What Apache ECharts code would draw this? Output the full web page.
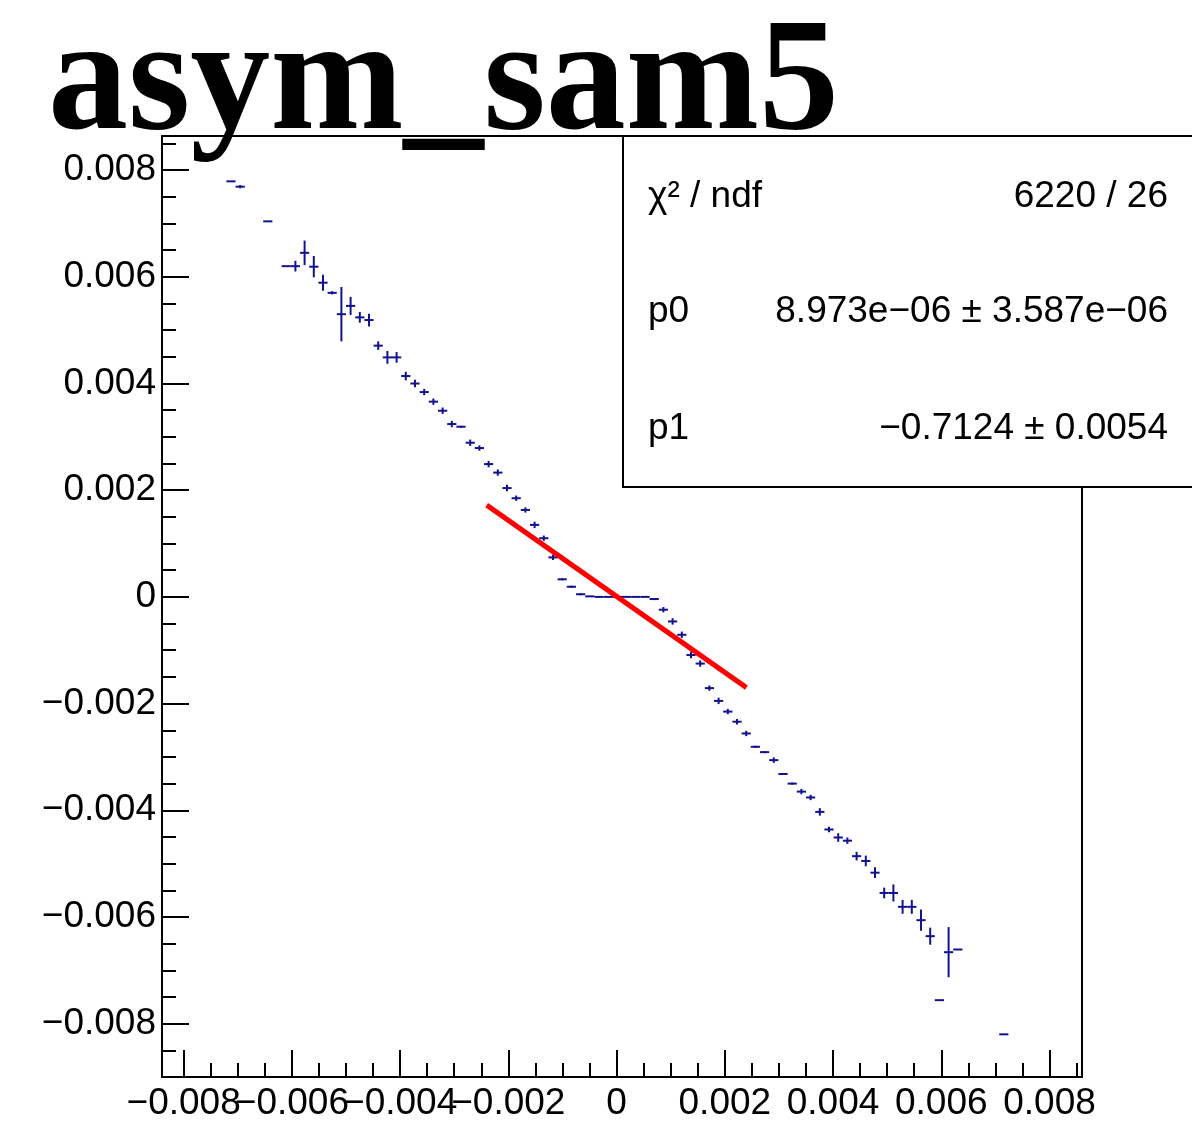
<!DOCTYPE html>
<html>
<head>
<meta charset="utf-8">
<script src="https://cdn.jsdelivr.net/npm/echarts@6/dist/echarts.min.js"></script>
<style>
html, body { margin: 0; padding: 0; background: #fff; }
#main { width: 1192px; height: 1144px; }
</style>
</head>
<body>
<div id="main"></div>
<script>
// profile bins (bin centre, mean, error on mean)
const binX = [
  -0.007125, -0.006955, -0.006445, -0.006105, -0.005935, -0.005765, -0.005595, -0.005425,
  -0.005255, -0.005085, -0.004915, -0.004745, -0.004575, -0.004405, -0.004235, -0.004065,
  -0.003895, -0.003725, -0.003555, -0.003385, -0.003215, -0.003045, -0.002875, -0.002705,
  -0.002535, -0.002365, -0.002195, -0.002025, -0.001855, -0.001685, -0.001515, -0.001345,
  -0.001175, -0.001005, -0.000835, -0.000665, -0.000495, -0.000325, -0.000155, 0.000015,
  0.000185, 0.000355, 0.000525, 0.000695, 0.000865, 0.001035, 0.001205, 0.001375,
  0.001545, 0.001715, 0.001885, 0.002055, 0.002225, 0.002395, 0.002565, 0.002735,
  0.002905, 0.003075, 0.003245, 0.003415, 0.003585, 0.003755, 0.003925, 0.004095,
  0.004265, 0.004435, 0.004605, 0.004775, 0.004945, 0.005115, 0.005285, 0.005455,
  0.005625, 0.005795, 0.005965, 0.006135, 0.006305, 0.007155
];
const binMean = [
  0.00779, 0.00769, 0.00704, 0.00620, 0.00620, 0.00645, 0.00619, 0.00589,
  0.00570, 0.00530, 0.005455, 0.00524, 0.00519, 0.00471, 0.00449, 0.00449,
  0.00414, 0.00400, 0.00384, 0.00366, 0.00349, 0.00324, 0.00319, 0.00289,
  0.00279, 0.00249, 0.00233, 0.00204, 0.00185, 0.00163, 0.00135, 0.00110,
  0.00074, 0.00033, 0.00019, 0.00005, 0.00001, 0.0, 0.0, 0.0,
  0.0, 0.0, 0.0, -0.00004, -0.00024, -0.00046, -0.00071, -0.00109,
  -0.00125, -0.00171, -0.00195, -0.00215, -0.00234, -0.00256, -0.00281, -0.00291,
  -0.00306, -0.00332, -0.00350, -0.00365, -0.00376, -0.00403, -0.00436, -0.00451,
  -0.00457, -0.00486, -0.00495, -0.00517, -0.00555, -0.00555, -0.00581, -0.00581,
  -0.00606, -0.00636, -0.00756, -0.00666, -0.00661, -0.00820
];
const binErr = [
  0.0, 0.00003, 0.0, 0.0, 0.00010, 0.00023, 0.00020, 0.00015,
  0.00003, 0.00051, 0.00017, 0.00010, 0.00012, 0.00008, 0.00012, 0.00010,
  0.00008, 0.00007, 0.00006, 0.00006, 0.00006, 0.00006, 0.00002, 0.00006,
  0.00005, 0.00006, 0.00006, 0.00006, 0.00005, 0.00005, 0.00006, 0.00005,
  0.00005, 0.00002, 0.00002, 0.00002, 0.0, 0.0, 0.0, 0.0,
  0.0, 0.0, 0.0, 0.00002, 0.00005, 0.00006, 0.00006, 0.00006,
  0.00006, 0.00005, 0.00006, 0.00005, 0.00005, 0.00005, 0.00002, 0.00002,
  0.00005, 0.00002, 0.00002, 0.00005, 0.00005, 0.00007, 0.00005, 0.00008,
  0.00006, 0.00008, 0.00010, 0.00010, 0.00010, 0.00016, 0.00013, 0.00013,
  0.00020, 0.00016, 0.0, 0.00047, 0.0, 0.0
];
const binWidth = 0.00017;

// pol1 fit drawn over its range
const fitX = [-0.0024, 0.0024];
const fitY = [0.00172, -0.00170];

const xTicks = [-0.008, -0.006, -0.004, -0.002, 0, 0.002, 0.004, 0.006, 0.008];
const yTicks = [-0.008, -0.006, -0.004, -0.002, 0, 0.002, 0.004, 0.006, 0.008];

const statLabels = ['\u03c7\u00b2 / ndf', 'p0', 'p1'];
const statValues = ['6220 / 26', '8.973e\u221206 \u00b1 3.587e\u221206', '\u22120.7124 \u00b1 0.0054'];

const xMin = -0.0084, xMax = 0.0086;
const yMin = -0.009, yMax = 0.00864;
const markColor = '#12128f';
const labelFont = '"Liberation Sans", Arial, sans-serif';

function minorTicks(lo, hi) {
  const out = [];
  for (let k = -20; k <= 20; k++) {
    if (k % 4 === 0) continue;
    const v = k * 0.0005;
    if (v > lo && v < hi) out.push(+v.toFixed(5));
  }
  return out;
}

function fmt(v) {
  if (Math.abs(v) < 1e-12) return '0';
  return (v < 0 ? '\u2212' : '') + Math.abs(v).toFixed(3);
}

function labelStyle(values, margin) {
  return {
    show: values.length > 0, customValues: values, formatter: fmt, margin: margin,
    showMinLabel: true, showMaxLabel: true, hideOverlap: false,
    color: '#000', fontSize: 37, fontFamily: labelFont
  };
}

// major ticks + (some) labels
function mainAxis(min, max, ticks, labels, pos) {
  return {
    type: 'value', min: min, max: max, position: pos,
    axisLine: { show: true, onZero: false, lineStyle: { color: '#000', width: 2 } },
    axisTick: { show: true, inside: true, length: 27, customValues: ticks, lineStyle: { color: '#000', width: 2 } },
    axisLabel: labelStyle(labels, pos === 'left' ? 6 : 8),
    splitLine: { show: false }
  };
}

// minor ticks + the remaining labels (split so overlapping labels are not dropped)
function minorAxis(min, max, labels, pos) {
  return {
    type: 'value', min: min, max: max, position: pos,
    axisLine: { show: false, onZero: false },
    axisTick: { show: true, inside: true, length: 14, customValues: minorTicks(min, max), lineStyle: { color: '#000', width: 2 } },
    axisLabel: labelStyle(labels, pos === 'left' ? 6 : 8),
    splitLine: { show: false }
  };
}

function renderBin(params, api) {
  const x = api.value(0), y = api.value(1), e = api.value(2);
  const a = api.coord([x - binWidth / 2, y]);
  const b = api.coord([x + binWidth / 2, y]);
  const style = { stroke: markColor, lineWidth: 2 };
  const children = [{ type: 'line', shape: { x1: a[0], y1: a[1], x2: b[0], y2: b[1] }, style: style }];
  if (e > 0) {
    const c = api.coord([x, y + e]);
    const d = api.coord([x, y - e]);
    children.push({ type: 'line', shape: { x1: c[0], y1: c[1], x2: d[0], y2: d[1] }, style: style });
  }
  return { type: 'group', children: children };
}

const xEven = xTicks.filter((v, i) => i % 2 === 0);
const xOdd = xTicks.filter((v, i) => i % 2 === 1);

let myChart = echarts.init(document.getElementById('main'));
myChart.setOption({
  animation: false,
  backgroundColor: '#fff',
  grid: { left: 162, top: 136, right: 110, bottom: 67, show: true, borderColor: '#000', borderWidth: 2, backgroundColor: 'transparent' },
  xAxis: [mainAxis(xMin, xMax, xTicks, xEven, 'bottom'), minorAxis(xMin, xMax, xOdd, 'bottom')],
  yAxis: [mainAxis(yMin, yMax, yTicks, yTicks, 'left'), minorAxis(yMin, yMax, [], 'left')],
  series: [
    {
      type: 'custom', xAxisIndex: 0, yAxisIndex: 0,
      renderItem: renderBin,
      encode: { x: 0, y: 1 },
      data: binX.map((x, i) => [x, binMean[i], binErr[i]]),
      z: 3
    },
    {
      type: 'line', xAxisIndex: 0, yAxisIndex: 0,
      data: fitX.map((x, i) => [x, fitY[i]]),
      showSymbol: false,
      lineStyle: { color: '#ff0000', width: 5 },
      z: 4
    }
  ],
  graphic: [
    {
      type: 'rect', z: 100,
      shape: { x: 623, y: 136, width: 620, height: 351 },
      style: { fill: '#fff', stroke: '#000', lineWidth: 2 }
    },
    ...statLabels.map((t, i) => ({
      type: 'text', z: 101, x: 648, y: [197, 312, 429][i],
      style: { text: t, fill: '#000', fontSize: 37, fontFamily: labelFont, verticalAlign: 'middle', align: 'left' }
    })),
    ...statValues.map((t, i) => ({
      type: 'text', z: 101, x: 1168, y: [197, 312, 429][i],
      style: { text: t, fill: '#000', fontSize: 37, fontFamily: labelFont, verticalAlign: 'middle', align: 'right' }
    })),
    {
      type: 'text', z: 102, x: 48, y: 87,
      style: { text: 'asym_sam5', fill: '#000', fontSize: 160, fontWeight: 'bold', fontFamily: '"Liberation Serif", "Times New Roman", serif', verticalAlign: 'middle', align: 'left' }
    }
  ]
});
</script>
</body>
</html>
